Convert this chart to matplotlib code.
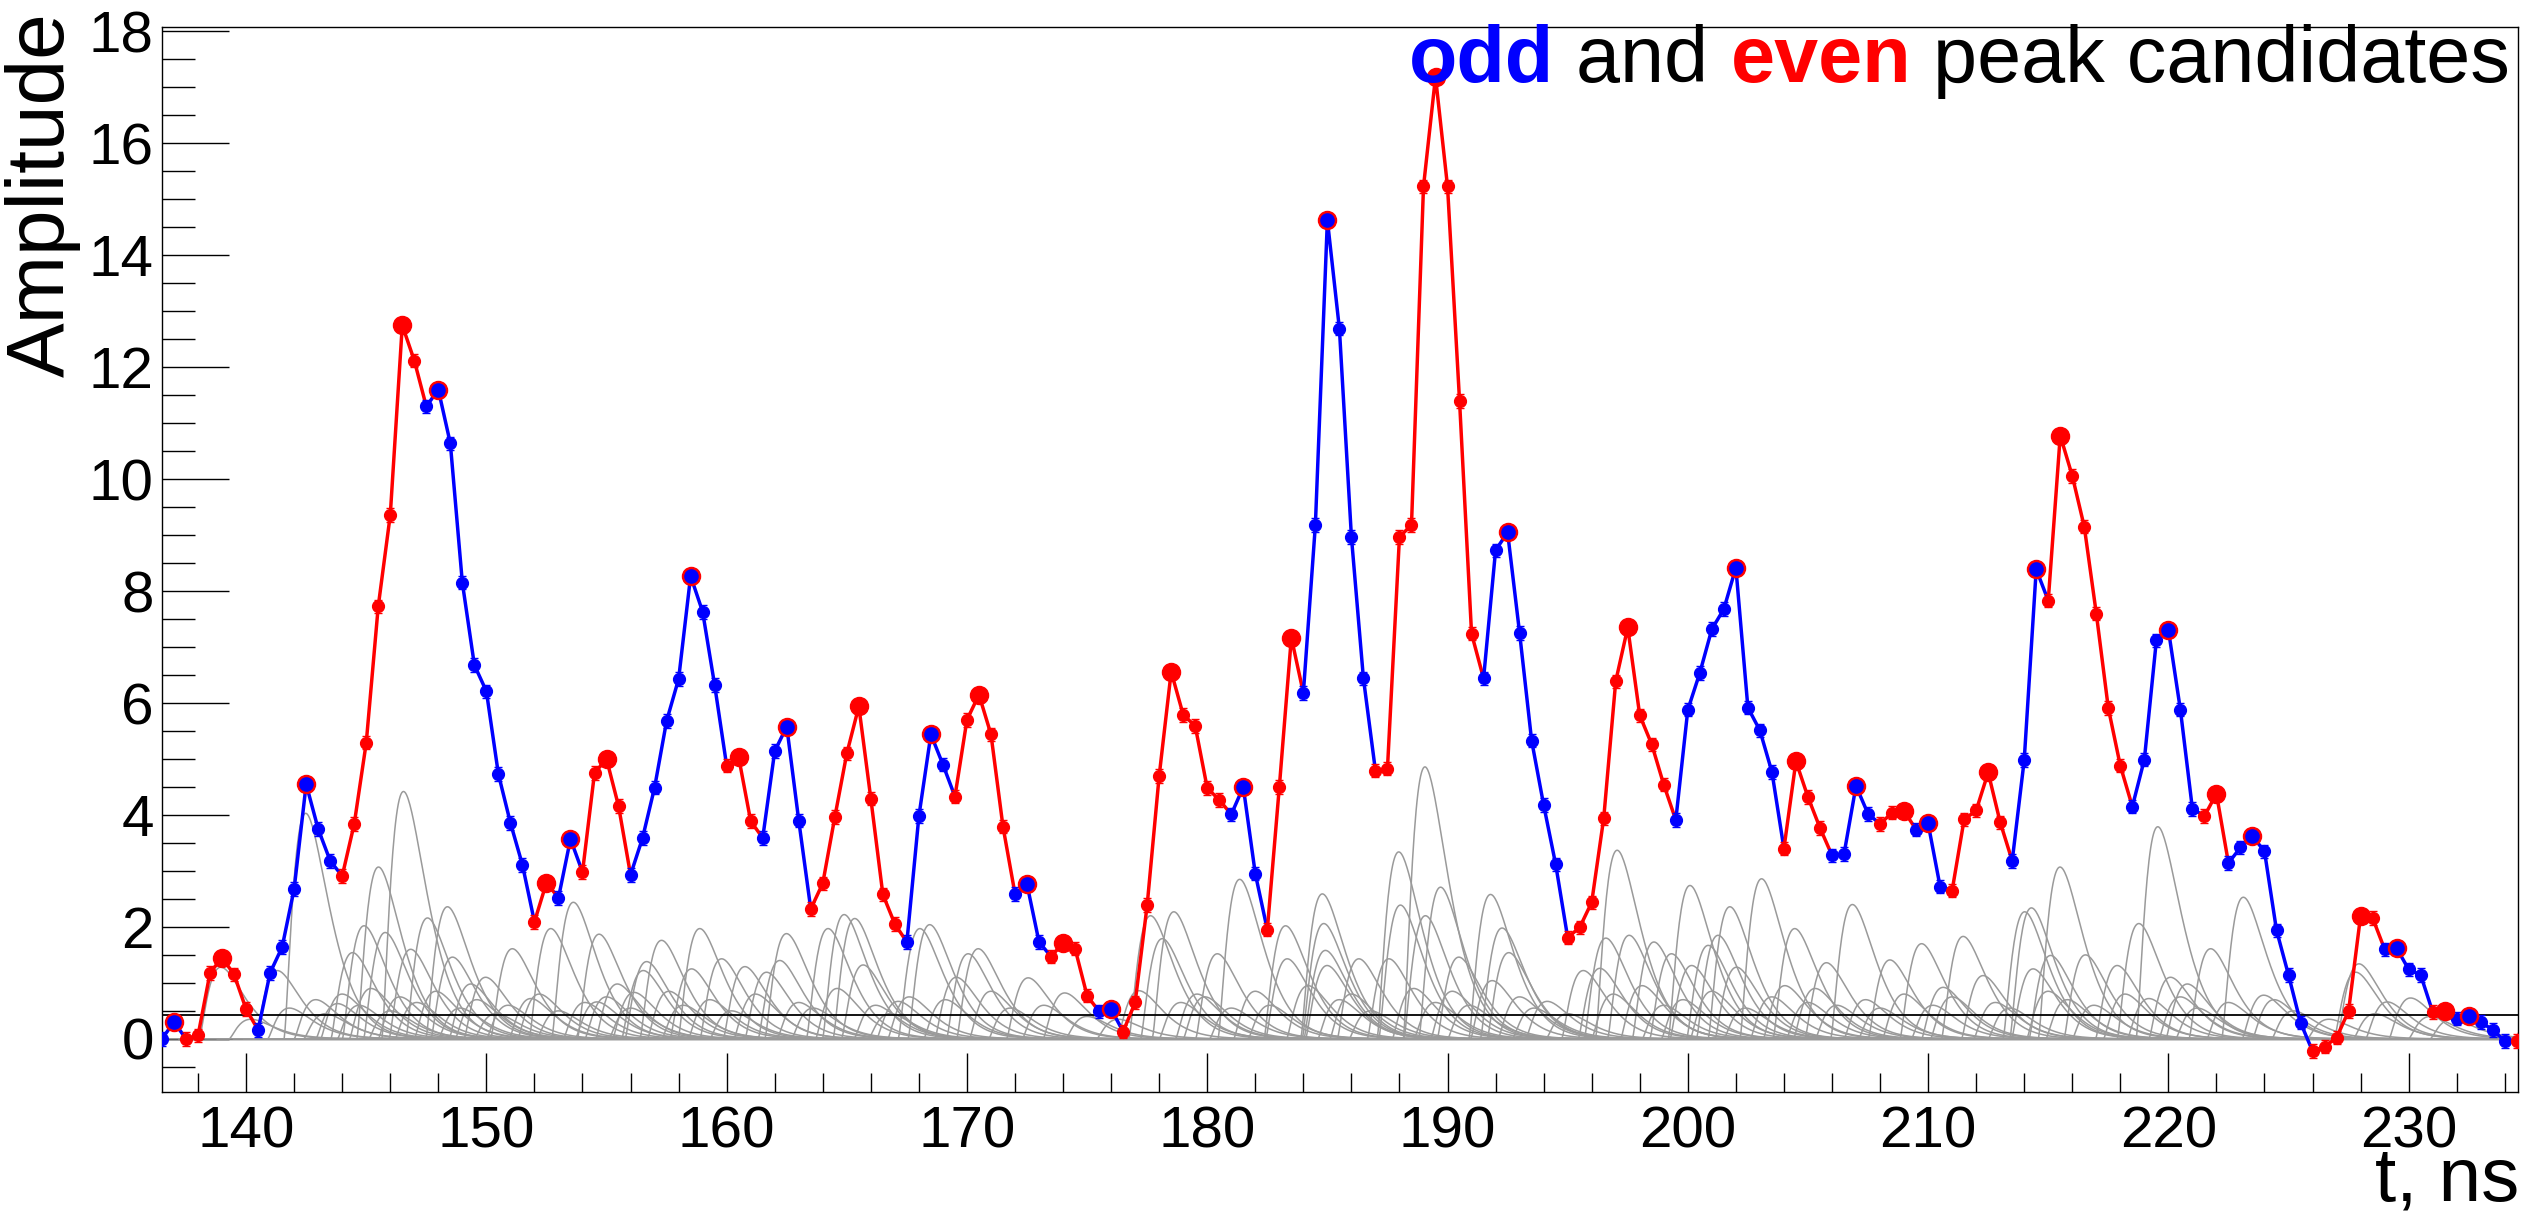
import numpy as np
import matplotlib
matplotlib.use('Agg')
import matplotlib.pyplot as plt
from matplotlib.offsetbox import TextArea, HPacker, AnchoredOffsetbox
from matplotlib.ticker import MultipleLocator

plt.rcParams['font.family'] = ['Liberation Sans', 'DejaVu Sans']

# ------------------------------------------------------------
# data: sampled waveform (0.5 ns step starting at 136.5 ns)
# ------------------------------------------------------------
t_start = 136.5
t_step = 0.5
amplitude = [
    0.00, 0.30, 0.00, 0.06, 1.18, 1.45, 1.15, 0.53, 0.16, 1.18,   # 136.5
    1.64, 2.68, 4.55, 3.75, 3.18, 2.91, 3.84, 5.29, 7.73, 9.36,   # 141.5
    12.75, 12.12, 11.30, 11.60, 10.64, 8.15, 6.68, 6.21, 4.73, 3.86,  # 146.5
    3.11, 2.09, 2.79, 2.52, 3.57, 2.98, 4.75, 5.00, 4.16, 2.93,   # 151.5
    3.59, 4.49, 5.68, 6.43, 8.27, 7.63, 6.32, 4.88, 5.03, 3.89,   # 156.5
    3.59, 5.14, 5.58, 3.90, 2.32, 2.78, 3.96, 5.10, 5.94, 4.29,   # 161.5
    2.58, 2.05, 1.73, 3.98, 5.44, 4.90, 4.33, 5.70, 6.15, 5.44,   # 166.5
    3.79, 2.59, 2.76, 1.73, 1.47, 1.71, 1.61, 0.77, 0.49, 0.53,   # 171.5
    0.13, 0.65, 2.39, 4.70, 6.56, 5.79, 5.59, 4.48, 4.27, 4.01,   # 176.5
    4.50, 2.95, 1.95, 4.50, 7.17, 6.18, 9.18, 14.63, 12.69, 8.97,  # 181.5
    6.44, 4.79, 4.83, 8.97, 9.18, 15.23, 17.19, 15.23, 11.40, 7.24,  # 186.5
    6.44, 8.73, 9.05, 7.25, 5.33, 4.18, 3.12, 1.81, 1.99, 2.44,   # 191.5
    3.94, 6.39, 7.35, 5.78, 5.26, 4.54, 3.91, 5.88, 6.54, 7.32,   # 196.5
    7.68, 8.42, 5.92, 5.51, 4.77, 3.40, 4.96, 4.32, 3.77, 3.28,   # 201.5
    3.30, 4.52, 4.02, 3.84, 4.04, 4.07, 3.74, 3.85, 2.72, 2.65,   # 206.5
    3.92, 4.08, 4.76, 3.87, 3.18, 4.98, 8.39, 7.83, 10.78, 10.06,  # 211.5
    9.15, 7.60, 5.91, 4.88, 4.15, 4.99, 7.12, 7.31, 5.88, 4.11,   # 216.5
    3.98, 4.38, 3.14, 3.42, 3.62, 3.35, 1.94, 1.14, 0.29, -0.22,  # 221.5
    -0.14, 0.02, 0.50, 2.20, 2.16, 1.60, 1.62, 1.24, 1.14, 0.48,  # 226.5
    0.50, 0.36, 0.41, 0.30, 0.16, -0.04, -0.04, 0.60,             # 231.5
]
amp_err = 0.12

# start of each peak-candidate region (colour alternates odd/even)
region_starts = [136.5, 137.5, 140.5, 144.0, 147.5, 152.0, 153.0, 154.0,
                 156.0, 160.0, 161.5, 163.5, 167.5, 169.5, 172.0, 173.5,
                 175.5, 176.5, 181.0, 182.5, 184.0, 187.0, 191.5, 195.0,
                 199.5, 204.0, 206.0, 208.0, 209.5, 211.0, 213.5, 215.0,
                 218.5, 221.5, 222.5, 226.0, 229.0, 231.0, 232.0, 234.5]

# single-pulse components (peak time, amplitude)
pulse_peak = [138.95, 141.3, 142.48, 143.8, 144.43, 144.91, 145.51, 145.79,
              146.55, 146.85, 147.55, 148.38, 148.59, 149.35, 149.97, 151.08,
              151.85, 152.68, 153.62, 154.69, 154.6, 155.45, 156.15,
              156.53, 156.67, 157.29, 158.54, 158.88, 159.79, 160.76, 161.66,
              162.21, 162.49, 164.22, 164.89, 165.33, 165.68, 167.14, 168.04,
              168.45, 169.56, 170.05, 170.47, 172.55, 174.07,
              177.16, 177.64, 178.13, 178.61, 179.58, 180.42, 181.35, 183.26,
              183.33, 184.79, 184.85, 184.92, 184.99, 186.31, 187.56, 187.97,
              188.04, 189.06, 189.08, 189.71, 190.47, 191.79, 191.86, 192.27,
              192.55, 194.15,
              195.65, 196.34, 196.59, 197.06, 197.56, 198.59, 199.32, 200.09,
              200.16, 200.85, 201.26, 201.75, 202.03, 203.07, 204.04, 204.45,
              205.77, 206.85, 208.41, 209.73, 210.63, 211.46, 212.29, 214.02,
              214.30, 214.37,
              215.49, 215.1, 216.55, 217.87, 218.77, 219.19, 219.56, 220.09,
              220.79, 221.76, 223.12, 223.97, 226.68, 227.93, 227.80, 229.11,
              230.08]
pulse_amp = [1.28, 1.22, 4.03, 0.63, 1.54, 2.02, 3.07, 1.90,
             4.42, 1.60, 2.16, 2.36, 1.46, 0.98, 1.10, 1.61,
             0.72, 1.97, 2.44, 1.87, 0.66, 0.98, 0.83,
             1.22, 1.38, 1.76, 1.25, 1.97, 1.43, 1.29, 1.19,
             1.40, 1.88, 1.97, 2.22, 2.15, 1.32, 0.67, 1.97,
             2.04, 1.10, 1.52, 1.61, 1.09, 0.82,
             0.86, 2.20, 1.79, 2.27, 0.80, 1.52, 2.85, 2.02,
             1.43, 2.59, 2.06, 1.58, 1.31, 1.43, 1.43, 3.34,
             2.39, 4.86, 2.20, 2.71, 1.46, 2.58, 1.04, 1.98,
             1.54, 0.67,
             1.22, 1.26, 1.80, 3.37, 1.85, 1.73, 1.52, 2.74,
             1.31, 1.67, 1.85, 2.36, 1.28, 2.86, 0.95, 1.97,
             1.36, 2.40, 1.41, 1.70, 0.92, 1.83, 1.13, 2.27,
             2.34, 1.25,
             3.07, 1.49, 1.50, 1.31, 2.06, 0.72, 3.79, 1.10,
             0.98, 1.61, 2.53, 0.78, 0.35, 1.34, 1.19, 0.66,
             0.73]

# smaller components crowding the baseline
small_peak = [140.2, 141.8, 142.9, 143.3, 144.0, 144.7, 145.2, 146.0, 146.4,
              147.1, 147.9, 148.9, 149.6, 150.4, 150.9, 152.2, 153.0, 154.1,
              155.0, 156.0, 157.6, 158.2, 159.3, 160.2, 161.2, 163.0, 163.6,
              164.6, 166.2, 166.8, 167.6, 169.1, 171.0, 171.8, 173.2, 175.0,
              176.3, 178.9, 179.9, 181.0, 182.0, 182.6, 184.2, 185.5, 186.0,
              186.8, 188.6, 189.5, 190.2, 190.9, 193.0, 193.6, 195.0, 196.9,
              198.1, 199.0, 199.8, 201.0, 202.4, 203.5, 205.0, 205.3, 206.2,
              207.4, 208.0, 209.0, 210.2, 211.0, 212.8, 213.4, 215.0, 215.8,
              216.9, 218.2, 220.5, 221.2, 222.5, 224.4, 225.2, 228.6, 230.9,
              231.8]
small_amp = [0.35, 0.55, 0.70, 0.45, 0.80, 0.60, 0.90, 0.50, 0.75,
             0.65, 0.85, 0.55, 0.70, 0.45, 0.60, 0.80, 0.50, 0.65,
             0.75, 0.55, 0.85, 0.60, 0.70, 0.50, 0.80, 0.65, 0.55,
             0.90, 0.60, 0.45, 0.75, 0.70, 0.85, 0.55, 0.60, 0.40,
             0.35, 0.65, 0.75, 0.55, 0.85, 0.60, 0.95, 0.70, 0.80,
             0.50, 0.90, 0.65, 0.85, 0.60, 0.75, 0.55, 0.45, 0.80,
             0.95, 0.60, 0.70, 0.85, 0.55, 0.75, 0.65, 0.90, 0.60,
             0.70, 0.55, 0.80, 0.60, 0.75, 0.65, 0.55, 0.85, 0.70,
             0.60, 0.80, 0.75, 0.55, 0.65, 0.70, 0.50, 0.45, 0.40,
             0.35]

threshold = 0.43

# ------------------------------------------------------------
t = t_start + t_step * np.arange(len(amplitude))
y = np.array(amplitude)

BLUE = '#0000ff'
RED = '#ff0000'
GRAY = '#9a9a9a'


def pulse(tt, tp, a, tau=0.6, n=1.5):
    """single pulse template, peak value a at time tp"""
    x = (tt - tp) / tau + n
    out = np.zeros_like(tt)
    m = x > 0
    out[m] = a * (x[m] / n) ** n * np.exp(n - x[m])
    return out


fig = plt.figure(figsize=(25.26, 12.17), dpi=100)
L, R, T, B = 162, 2518, 27, 1092
ax = fig.add_axes([L / 2526, 1 - B / 1217, (R - L) / 2526, (B - T) / 1217])

# pulse components
for tp, a in list(zip(pulse_peak, pulse_amp)) + list(zip(small_peak, small_amp)):
    tt = np.linspace(tp - 3, tp + 12, 400)
    ax.plot(tt, pulse(tt, tp, a), color=GRAY, lw=1.1, zorder=2)

ax.axhline(0, color='black', lw=1.0, zorder=1)
ax.axhline(threshold, color='black', lw=1.3, zorder=3)

# regions
idx_start = [int(round((s - t_start) / t_step)) for s in region_starts]
idx_end = idx_start[1:] + [len(t) - 1]
for k, (i0, i1) in enumerate(zip(idx_start, idx_end)):
    col = BLUE if k % 2 == 0 else RED
    seg = slice(i0, i1 + 1)
    ax.plot(t[seg], y[seg], color=col, lw=2.5, zorder=4)
    pts = slice(i0, i1 if k < len(idx_start) - 1 else i1 + 1)
    ax.errorbar(t[pts], y[pts], yerr=amp_err, xerr=0.1, fmt='o', color=col,
                ms=8.5, lw=1.4, capsize=3, ecolor=col, zorder=5)

# peak candidates
for k, (i0, i1) in enumerate(zip(idx_start, idx_end)):
    last = i1 if k < len(idx_start) - 1 else i1 + 1
    ip = i0 + int(np.argmax(y[i0:last]))
    ax.plot(t[ip], y[ip], 'o', color=RED, ms=13, zorder=6)
    if k % 2 == 0:
        ax.plot(t[ip], y[ip], 'o', color=BLUE, ms=9.5, zorder=7)

ax.set_xlim(136.5, 234.55)
ax.set_ylim(-0.95, 18.08)
ax.xaxis.set_major_locator(MultipleLocator(10))
ax.xaxis.set_minor_locator(MultipleLocator(2))
ax.yaxis.set_major_locator(MultipleLocator(2))
ax.yaxis.set_minor_locator(MultipleLocator(0.5))
ax.tick_params(which='both', direction='in', top=False, right=False,
               labelsize=42, width=1.0)
ax.tick_params(axis='x', which='major', length=28, pad=10)
ax.tick_params(axis='x', which='minor', length=14)
ax.tick_params(axis='y', which='major', length=48, pad=6)
ax.tick_params(axis='y', which='minor', length=24)
for s in ax.spines.values():
    s.set_linewidth(1.0)

fig.text(43 / 2526, 1 - 12 / 1217, 'Amplitude', rotation=90, ha='center',
         va='top', fontsize=59)
fig.text(2519 / 2526, 1 - 1200 / 1217, 't, ns', ha='right', va='baseline',
         fontsize=55)

parts = [('odd', BLUE, 'bold'), (' and ', 'black', 'normal'),
         ('even', RED, 'bold'), (' peak candidates', 'black', 'normal')]
boxes = [TextArea(s, textprops=dict(color=c, fontsize=57, fontweight=w))
         for s, c, w in parts]
pack = HPacker(children=boxes, align='baseline', pad=0, sep=0)
title = AnchoredOffsetbox(loc='upper right', child=pack, pad=0, borderpad=0,
                          frameon=False, bbox_to_anchor=(2510 / 2526, 1 - 24 / 1217),
                          bbox_transform=fig.transFigure)
fig.add_artist(title)

fig.savefig('out.png', dpi=100)
